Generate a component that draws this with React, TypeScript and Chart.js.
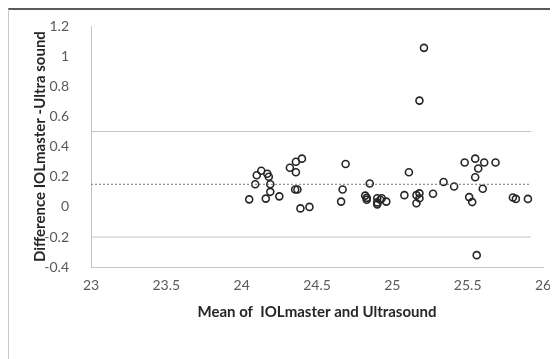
import React, { useEffect, useRef } from "react";
import { Chart, registerables } from "chart.js";

Chart.register(...registerables);

// Mean of IOLmaster and Ultrasound
const meanValues = [
  24.05, 24.09, 24.10, 24.13, 24.17, 24.18, 24.19, 24.19, 24.16, 24.25,
  24.32, 24.36, 24.40, 24.36, 24.355, 24.37, 24.39, 24.45, 24.69, 24.67,
  24.66, 24.85, 24.82, 24.83, 24.83, 24.90, 24.90, 24.92, 24.90, 24.93,
  24.96, 25.11, 25.08, 25.16, 25.18, 25.18, 25.16, 25.27, 25.34, 25.41,
  25.48, 25.55, 25.57, 25.55, 25.61, 25.685, 25.60, 25.51, 25.53, 25.80,
  25.82, 25.90, 25.56, 25.21, 25.18,
];
// Difference IOLmaster - Ultrasound
const diffValues = [
  0.05, 0.15, 0.21, 0.24, 0.22, 0.20, 0.15, 0.10, 0.055, 0.07,
  0.26, 0.30, 0.32, 0.23, 0.115, 0.115, -0.01, 0.0, 0.285, 0.115,
  0.035, 0.155, 0.075, 0.06, 0.047, 0.057, 0.03, 0.047, 0.017, 0.057,
  0.035, 0.23, 0.078, 0.078, 0.09, 0.057, 0.024, 0.087, 0.165, 0.135,
  0.295, 0.32, 0.255, 0.197, 0.295, 0.295, 0.12, 0.065, 0.032, 0.062,
  0.053, 0.053, -0.32, 1.055, 0.705,
];

// Bland-Altman reference lines
const meanDiff = 0.15;
const upperLimit = 0.5;
const lowerLimit = -0.2;
const lineRange = [23, 25.92];

const xTitle = "Mean of  IOLmaster and Ultrasound";
const yTitle = "Difference IOLmaster -Ultra sound";

const fmt = (v: any) => String(Number(Number(v).toFixed(1)));

export default function App() {
  const ref = useRef<HTMLCanvasElement | null>(null);

  useEffect(() => {
    if (!ref.current) return;
    const pts = meanValues.map((x, i) => ({ x, y: diffValues[i] }));
    const hline = (v: number) => lineRange.map((x) => ({ x, y: v }));
    const chart = new Chart(ref.current, {
      type: "scatter",
      data: {
        datasets: [
          {
            type: "line",
            data: hline(upperLimit),
            borderColor: "#c4c4c4",
            borderWidth: 1,
            pointRadius: 0,
          },
          {
            type: "line",
            data: hline(lowerLimit),
            borderColor: "#c4c4c4",
            borderWidth: 1,
            pointRadius: 0,
          },
          {
            type: "line",
            data: hline(meanDiff),
            borderColor: "#777777",
            borderWidth: 1,
            borderDash: [2, 2],
            pointRadius: 0,
          },
          {
            data: pts,
            pointRadius: 3.5,
            pointBorderWidth: 1.6,
            borderColor: "#262626",
            backgroundColor: "rgba(0,0,0,0)",
            pointBackgroundColor: "rgba(0,0,0,0)",
          },
        ],
      },
      options: {
        animation: false,
        responsive: false,
        layout: { padding: { left: 22, top: 16, right: 15, bottom: 38 } },
        plugins: { legend: { display: false }, tooltip: { enabled: false } },
        scales: {
          x: {
            type: "linear",
            min: 23,
            max: 26,
            ticks: {
              stepSize: 0.5,
              padding: 2,
              color: "#595959",
              font: { family: "Lato", size: 14 },
              callback: fmt,
            },
            grid: { display: false },
            border: { display: true, color: "#c4c4c4", width: 1 },
            title: {
              display: true,
              text: xTitle,
              color: "#262626",
              font: { family: "Lato", size: 15, weight: "bold" },
              padding: { top: 7, bottom: 0 },
            },
          },
          y: {
            type: "linear",
            min: -0.4,
            max: 1.2,
            ticks: {
              stepSize: 0.2,
              padding: 14,
              color: "#595959",
              font: { family: "Lato", size: 14 },
              callback: fmt,
            },
            grid: { display: false },
            border: { display: true, color: "#c4c4c4", width: 1 },
            title: {
              display: true,
              text: yTitle,
              color: "#262626",
              font: { family: "Lato", size: 15, weight: "bold" },
              padding: 0,
            },
            afterFit: (s: any) => {
              s.width = 60;
              s.paddingTop = 8;
              s.paddingBottom = 8;
            },
          },
        },
      },
    });
    return () => chart.destroy();
  }, []);

  return (
    <div
      style={{
        width: 549,
        height: 349,
        borderTop: "2px solid #5a5a5a",
        borderLeft: "1px solid #c8c8c8",
        background: "#fff",
      }}
    >
      <canvas ref={ref} width={549} height={349} style={{ display: "block" }} />
    </div>
  );
}
